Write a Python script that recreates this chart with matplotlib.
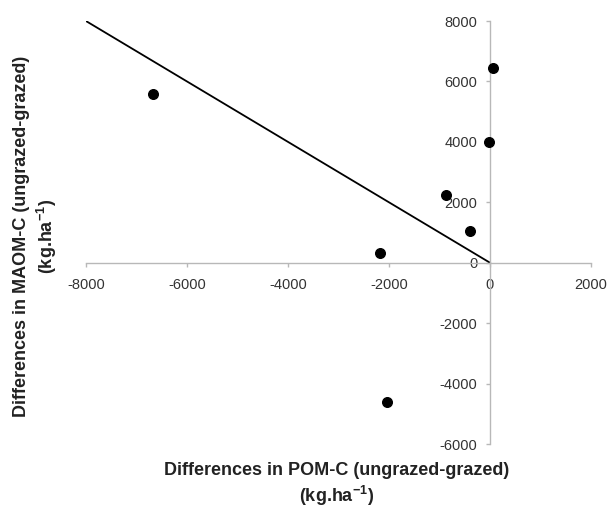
import matplotlib.pyplot as plt

plt.rcParams["font.family"] = ["Liberation Sans", "DejaVu Sans"]
plt.rcParams["axes.unicode_minus"] = False
plt.rcParams["mathtext.fontset"] = "custom"
plt.rcParams["mathtext.rm"] = "Liberation Sans"
plt.rcParams["mathtext.bf"] = "Liberation Sans:bold"

# Differences (ungrazed - grazed), kg C per ha
pom_diff = [-6680, 60, -20, -870, -400, -2180, -2040]
maom_diff = [5570, 6450, 4000, 2230, 1050, 330, -4600]

# 1:1 reference line (y = -x)
ref_x = [-8000, 0]
ref_y = [8000, 0]

x_ticks = [-8000, -6000, -4000, -2000, 0, 2000]
y_ticks = [-6000, -4000, -2000, 0, 2000, 4000, 6000, 8000]

AXIS_GREY = "#b8b8b8"
TICK_TEXT = "#333333"

fig = plt.figure(figsize=(6.08, 5.09), dpi=100)
ax = fig.add_axes([0.1414, 0.1277, 0.8306, 0.831])

ax.plot(ref_x, ref_y, color="black", lw=1.3, zorder=2)
ax.scatter(pom_diff, maom_diff, s=48, color="black", zorder=3)

ax.set_xlim(-8000, 2000)
ax.set_ylim(-6000, 8000)
ax.set_xticks(x_ticks)
ax.set_yticks(y_ticks)

for side in ("top", "right"):
    ax.spines[side].set_visible(False)
for side in ("left", "bottom"):
    ax.spines[side].set_position("zero")
    ax.spines[side].set_color(AXIS_GREY)
    ax.spines[side].set_linewidth(1.0)

ax.tick_params(axis="both", direction="out", length=3, width=1.0, color=AXIS_GREY,
               labelsize=10.5, labelcolor=TICK_TEXT)
ax.tick_params(axis="x", pad=8)
ax.tick_params(axis="y", pad=6)

fig.text(337 / 608, 1 - 485 / 509,
         "Differences in POM-C (ungrazed-grazed)\n(kg.ha$^{\\mathbf{-1}}$)",
         ha="center", va="center", fontsize=13, fontweight="bold", color="#222222",
         linespacing=1.3)
fig.text(36 / 608, 1 - 236 / 509,
         "Differences in MAOM-C (ungrazed-grazed)\n(kg.ha$^{\\mathbf{-1}}$)",
         ha="center", va="center", rotation=90, fontsize=13, fontweight="bold",
         color="#222222", linespacing=1.3)

fig.savefig("out.png", dpi=100)
